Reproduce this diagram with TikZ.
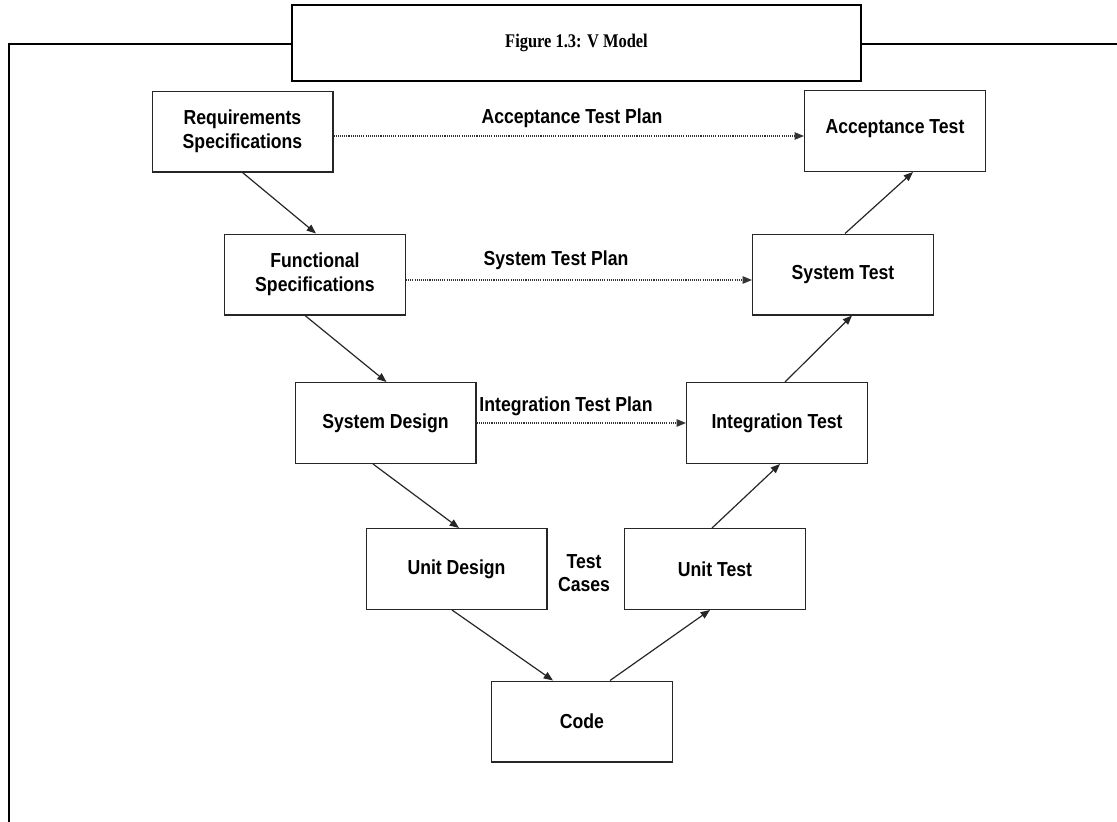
\documentclass[tikz,border=0pt]{standalone}
\usepackage{fontspec}
\newfontfamily\boxfont{Liberation Sans}[FakeStretch=0.87]
\newfontfamily\capfont{Liberation Serif}[FakeStretch=0.85]
\usetikzlibrary{arrows.meta,calc}
\begin{document}
\begin{tikzpicture}[x=0.75pt,y=-0.75pt,
  stage/.style={draw=black!85, line width=1pt, minimum width=135.5pt,
    minimum height=60.5pt, inner sep=0pt, align=center,
    font=\boxfont\bfseries\fontsize{15.2}{18}\selectfont},
  lbl/.style={inner sep=0pt, align=center,
    font=\boxfont\bfseries\fontsize{15.2}{17.5}\selectfont},
  flow/.style={line width=0.9pt, draw=black!85, -{Triangle[length=7pt,width=5.5pt]}},
  plan/.style={line width=1pt, draw=black!80, dash pattern=on 0.8pt off 0.8pt,
    -{Triangle[length=7pt,width=5.5pt]}},
  frame/.style={line width=2.2pt}
]
\useasboundingbox (0,0) rectangle (1117,821);

% caption box and surrounding frame
\node[draw, frame, minimum width=426.75pt, minimum height=57pt, inner sep=0pt,
  font=\capfont\bfseries\fontsize{14.5}{16}\selectfont] (cap) at (576.5,43) {Figure 1.3: V Model};
\draw[frame] (cap.west |- 0,44) -- (9,44) -- (9,822);
\draw[frame] (cap.east |- 0,44) -- (1118,44);

% left branch of the V
\node[stage] (req)   at (242.5,131.5) {Requirements\\Specifications};
\node[stage] (func)  at (315,274.5)   {Functional\\Specifications};
\node[stage] (sysd)  at (385.5,423)   {System Design};
\node[stage] (unitd) at (456.5,569)   {Unit Design};
% bottom
\node[stage] (code)  at (582,721.5)   {Code};
% right branch of the V
\node[stage] (unitt) at (715,569)     {Unit Test};
\node[stage] (intt)  at (777,423)     {Integration Test};
\node[stage] (syst)  at (843,274.5)   {System Test};
\node[stage, text depth=7pt] (acct) at (895,131) {Acceptance Test};

% test plan labels
\node[lbl] (accplan) at (572,118) {Acceptance Test Plan};
\node[lbl] (sysplan) at (556,260) {System Test Plan};
\node[lbl] (intplan) at (566,406) {Integration Test Plan};
\node[lbl] (cases)   at (584,573) {Test\\Cases};

% development flow down the V
\draw[flow] (req.south) -- ($(func.north)+(1,0)$);
\draw[flow] ($(func.south)+(-10,0)$) -- ($(sysd.north)+(1,0)$);
\draw[flow] ($(sysd.south)+(-12.5,0)$) -- ($(unitd.north)+(2.5,0)$);
\draw[flow] ($(unitd.south)+(-4.5,0)$) -- ($(code.north)+(-29,0)$);
% testing flow up the V
\draw[flow] ($(code.north)+(28,0)$) -- ($(unitt.south)+(-5,0)$);
\draw[flow] ($(unitt.north)+(-3,0)$) -- ($(intt.south)+(3,0)$);
\draw[flow] ($(intt.north)+(8,0)$) -- ($(syst.south)+(9,0)$);
\draw[flow] ($(syst.north)+(2,0)$) -- ($(acct.south)+(18,0)$);

% test plans across the V
\draw[plan] (req.east |- 0,136) -- (acct.west |- 0,136);
\draw[plan] (func.east |- 0,280) -- (syst.west |- 0,280);
\draw[plan] (sysd.east |- 0,423) -- (intt.west |- 0,423);
\end{tikzpicture}
\end{document}
